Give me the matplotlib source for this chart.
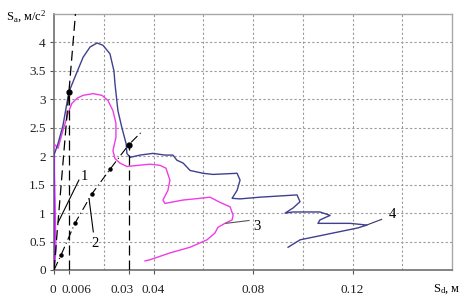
import matplotlib
matplotlib.use("Agg")
import matplotlib.pyplot as plt
import matplotlib.transforms as mtransforms
import numpy as np

plt.rcParams['font.family'] = ['Liberation Serif', 'DejaVu Serif']
plt.rcParams['mathtext.fontset'] = 'custom'
plt.rcParams['mathtext.rm'] = 'Liberation Serif'
plt.rcParams['mathtext.it'] = 'Liberation Serif'

# Curve 4 (blue): capacity/demand trace
blue_x = [0, 0, 0.0016, 0.0036, 0.006, 0.0084, 0.0117, 0.0145, 0.0173, 0.0197, 0.0225,
          0.0241, 0.0245, 0.0257, 0.0273, 0.029, 0.0293, 0.0306, 0.0346, 0.0398, 0.0446,
          0.0478, 0.0494, 0.0519, 0.0547, 0.0599, 0.0639, 0.0736, 0.0748, 0.0736, 0.0716,
          0.0748, 0.0828, 0.0977, 0.0989, 0.0961, 0.0929, 0.0961, 0.1069, 0.111, 0.1069,
          0.1061, 0.119, 0.1258, 0.1222, 0.1122, 0.0989, 0.0941]
blue_y = [0, 2.02, 2.22, 2.54, 3.13, 3.39, 3.74, 3.92, 3.99, 3.95, 3.8,
          3.5, 3.28, 2.8, 2.5, 2.22, 2.05, 1.98, 2.02, 2.05, 2.02,
          2.02, 1.93, 1.88, 1.75, 1.7, 1.68, 1.7, 1.58, 1.4, 1.26,
          1.25, 1.28, 1.32, 1.2, 1.09, 1.0, 1.02, 1.02, 0.96, 0.88,
          0.82, 0.82, 0.79, 0.74, 0.65, 0.53, 0.40]

# Curve 3 (magenta)
mag_x = [0, 0.0008, 0.0004, 0, 0, 0.0016, 0.0036, 0.0056, 0.0072, 0.0093, 0.0117,
         0.0157, 0.0193, 0.0217, 0.0237, 0.0249, 0.0249, 0.0237, 0.0245, 0.0265, 0.0293,
         0.0386, 0.0426, 0.045, 0.0466, 0.0458, 0.0438, 0.0446, 0.0519, 0.0587, 0.0627,
         0.0667, 0.0708, 0.072, 0.0716, 0.0687, 0.0659, 0.0647, 0.0615, 0.0547, 0.0466,
         0.0386, 0.0366]
mag_y = [0, 0.35, 1.23, 1.93, 2.22, 2.14, 2.45, 2.75, 2.93, 3.02, 3.07,
         3.1, 3.07, 2.98, 2.8, 2.58, 2.33, 2.1, 1.96, 1.88, 1.82,
         1.86, 1.84, 1.79, 1.58, 1.4, 1.23, 1.17, 1.23, 1.26, 1.28,
         1.19, 1.11, 0.96, 0.88, 0.82, 0.75, 0.65, 0.53, 0.4, 0.3,
         0.18, 0.16]

# Line 1: initial stiffness (dashed tangent)
line1_x = [0, 0.006]
line1_y = [0, 3.13]
# Line 2: secant line with markers
line2_x = [0, 0.0028, 0.0084, 0.0151, 0.0225, 0.03, 0.0355]
line2_y = [0, 0.26, 0.82, 1.33, 1.77, 2.2, 2.44]
line2_dots_x = [0.0028, 0.0084, 0.0151, 0.0225]
line2_dots_y = [0.26, 0.82, 1.33, 1.77]

# Key points
key_x = [0.006, 0.03]
key_y = [3.13, 2.2]

xticks = [0, 0.006, 0.03, 0.04, 0.08, 0.12]
xtick_labels = ['0', '0.006', '0.03', '0.04', '0.08', '0.12']
yticks = [0, 0.5, 1, 1.5, 2, 2.5, 3, 3.5, 4]
ytick_labels = ['0', '0.5', '1', '1.5', '2', '2.5', '3', '3.5', '4']

fig = plt.figure(figsize=(4.70, 3.08), dpi=100)
ax = fig.add_axes([54/470, 1-270/308, (452-54)/470, (270-14)/308])
ax.set_xlim(0, 0.16)
ax.set_ylim(0, 4.5)

# grid
for gx in [0.02, 0.04, 0.06, 0.08, 0.10, 0.12, 0.14]:
    ax.axvline(gx, color='#9a9a9a', lw=0.8, ls=(0, (2, 2)), zorder=0)
for gy in [0.5, 1, 1.5, 2, 2.5, 3, 3.5, 4]:
    ax.axhline(gy, color='#9a9a9a', lw=0.8, ls=(0, (2, 2)), zorder=0)

blue = '#40408f'
mag = '#f03ce6'
ax.plot(mag_x, mag_y, color=mag, lw=1.0, zorder=3)
ax.plot(blue_x, blue_y, color=blue, lw=1.0, zorder=4)
ax.plot([0, 0], [0, 2.0], color='#8a2be2', lw=1.6, zorder=5)

dash = (0, (8, 4))
# tangent line 1 extended to top
slope = line1_y[1] / line1_x[1]
ax.plot([0, 4.5 / slope], [0, 4.5], color='black', lw=0.9, ls=dash, zorder=6)
# vertical dashed lines
ax.plot([key_x[0], key_x[0]], [0, key_y[0]], color='black', lw=0.9, ls=dash, zorder=6)
ax.plot([key_x[1], key_x[1]], [0, key_y[1]], color='black', lw=0.9, ls=dash, zorder=6)
# line 2
ax.plot(line2_x, line2_y, color='black', lw=0.8, ls=(0, (8, 3, 1, 3)), zorder=6)
ax.plot(line2_dots_x, line2_dots_y, 'o', color='black', ms=2.2, zorder=7)
ax.plot(key_x, key_y, 'o', color='black', ms=3.5, zorder=7)

# leaders and labels
ax.plot([0.0017, 0.0100], [0.84, 1.58], color='black', lw=0.8, zorder=6)
ax.text(0.0106, 1.64, '1', fontsize=10.5, ha='left', va='center')
ax.plot([0.0141, 0.0158], [1.25, 0.67], color='black', lw=0.8, zorder=6)
ax.text(0.0152, 0.47, '2', fontsize=10.5, ha='left', va='center')
ax.plot([0.0691, 0.0784], [0.82, 0.87], color='#555555', lw=0.8, zorder=6)
ax.text(0.0800, 0.76, '3', fontsize=10.5, ha='left', va='center')
ax.plot([0.1257, 0.1317], [0.79, 0.89], color='#333366', lw=0.8, zorder=6)
ax.text(0.1345, 0.98, '4', fontsize=10.5, ha='left', va='center')

ax.set_xticks(xticks)
ax.set_xticklabels(xtick_labels)
ax.set_yticks(yticks)
ax.set_yticklabels(ytick_labels)
ax.tick_params(axis='x', length=3, pad=7, labelsize=9.5, color='#555555', labelcolor='#222222')
ax.tick_params(axis='y', length=3, pad=3, labelsize=9.5, color='#555555', labelcolor='#222222')

# shift crowded labels like in the reference
offsets = {'0': -1, '0.006': 8, '0.03': -7}
for lab in ax.get_xticklabels():
    dx = offsets.get(lab.get_text(), 0)
    if dx:
        lab.set_transform(lab.get_transform() + mtransforms.ScaledTranslation(dx/100, 0, fig.dpi_scale_trans))

for s in ['left', 'bottom']:
    ax.spines[s].set_color('#707070')
    ax.spines[s].set_linewidth(1.2)
for s in ['top', 'right']:
    ax.spines[s].set_color('#a8a8a8')
    ax.spines[s].set_linewidth(1.0)

fig.text(6/470, 1-17/308, r'S$_{\mathregular{а}}$, м/с$^{\mathregular{2}}$', fontsize=9, ha='left', va='center')
fig.text(433/470, 1-289/308, r'S$_{\mathregular{d}}$, м', fontsize=9, ha='left', va='center')

fig.savefig('out.png', dpi=100)
